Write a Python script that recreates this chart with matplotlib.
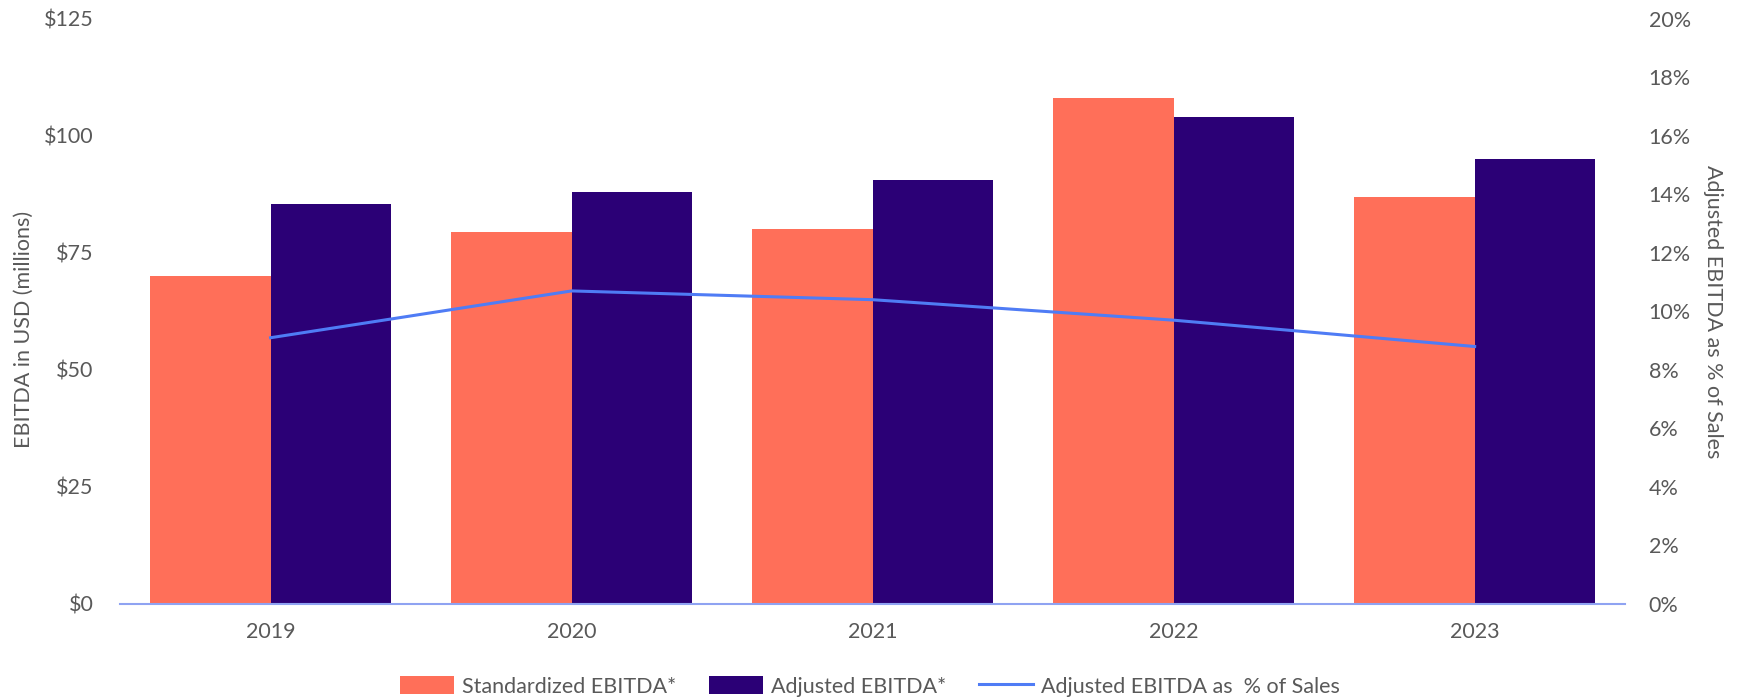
import matplotlib
matplotlib.use("Agg")
import matplotlib.pyplot as plt
import numpy as np

# data
years = ["2019", "2020", "2021", "2022", "2023"]
standardized = [70, 79.5, 80, 108, 87]
adjusted = [85.5, 88, 90.5, 104, 95]
pct_of_sales = [9.1, 10.7, 10.4, 9.7, 8.8]

CORAL = "#FF6F59"
NAVY = "#2B0076"
LINE = "#4F7CF5"
AXIS = "#8FA3F2"
TEXT = "#595959"

plt.rcParams['font.family'] = ['Lato', 'DejaVu Sans']

fig = plt.figure(figsize=(17.4, 6.99), dpi=100)
ax = fig.add_axes([0.069, 0.136, 0.865, 0.837])
ax2 = ax.twinx()

x = np.arange(len(years))
w = 0.4
b1 = ax.bar(x - w / 2, standardized, w, color=CORAL, label="Standardized EBITDA*")
b2 = ax.bar(x + w / 2, adjusted, w, color=NAVY, label="Adjusted EBITDA*")
ln, = ax2.plot(x, pct_of_sales, color=LINE, lw=2.2, label="Adjusted EBITDA as  % of Sales")

ax.set_xlim(-0.5, len(years) - 0.5)
ax.set_ylim(0, 125)
ax.set_yticks(np.arange(0, 126, 25))
ax.set_yticklabels(["$%d" % v for v in np.arange(0, 126, 25)])
ax.set_xticks(x)
ax.set_xticklabels(years)
ax2.set_ylim(0, 20)
ax2.set_yticks(np.arange(0, 21, 2))
ax2.set_yticklabels(["%d%%" % v for v in np.arange(0, 21, 2)])

for a in (ax, ax2):
    for s in a.spines.values():
        s.set_visible(False)
    a.tick_params(length=0, labelsize=15.5, labelcolor=TEXT)
ax.spines['bottom'].set_visible(True)
ax.spines['bottom'].set_color(AXIS)
ax.spines['bottom'].set_linewidth(1.5)
ax.tick_params(axis='y', pad=19)
ax.tick_params(axis='x', pad=13)
ax2.tick_params(axis='y', pad=17)

ax.set_ylabel("EBITDA in USD (millions)", fontsize=15.5, color=TEXT)
ax.yaxis.set_label_coords(-0.057, 0.47)
ax2.set_ylabel("Adjusted EBITDA as % of Sales", fontsize=15.5, color=TEXT, rotation=270, va="bottom")
ax2.yaxis.set_label_coords(1.052, 0.5)

leg = fig.legend(handles=[b1, b2, ln], loc="center", bbox_to_anchor=(0.5, 0.018),
                 ncol=3, frameon=False, fontsize=15.5, handlelength=2.5, handleheight=0.9,
                 handletextpad=0.4, columnspacing=1.5)
for t in leg.get_texts():
    t.set_color(TEXT)

fig.savefig("out.png", dpi=100)
